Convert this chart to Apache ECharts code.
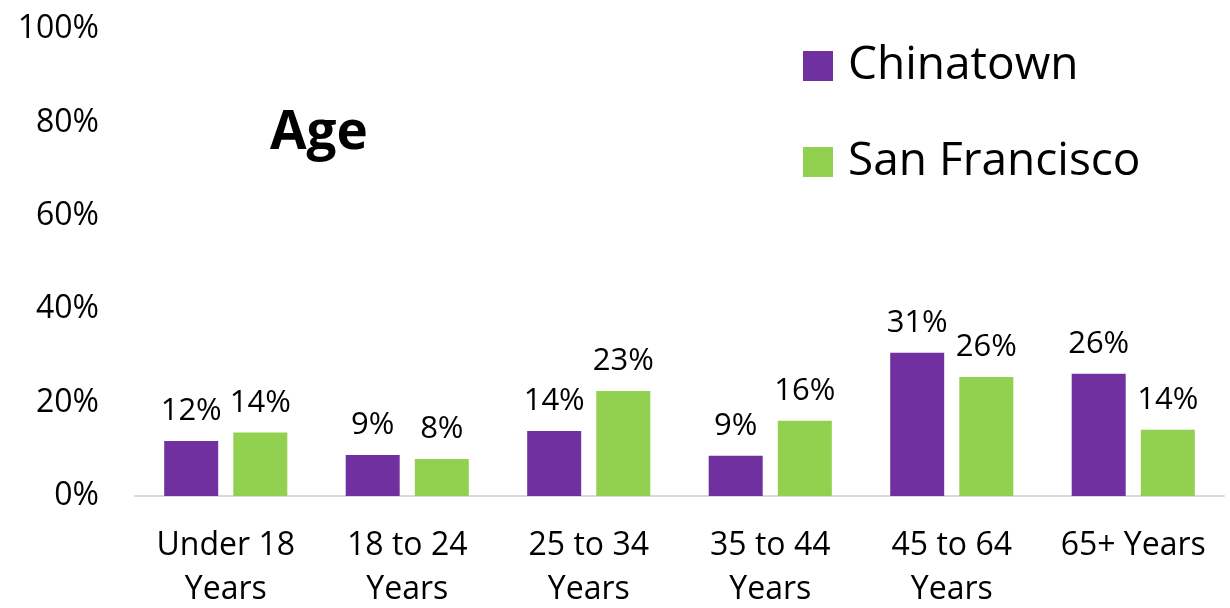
<!DOCTYPE html>
<html>
<head>
<meta charset="utf-8">
<script src="https://cdn.jsdelivr.net/npm/echarts@6/dist/echarts.min.js"></script>
<style>html,body{margin:0;padding:0;background:#fff}#c{width:1230px;height:608px}</style>
</head>
<body>
<div id="c"></div>
<script>
const categories = ['Under 18\nYears', '18 to 24\nYears', '25 to 34\nYears', '35 to 44\nYears', '45 to 64\nYears', '65+ Years'];
const chinatown = [11.8, 8.8, 13.9, 8.6, 30.7, 26.2];
const sanFrancisco = [13.6, 7.9, 22.5, 16.1, 25.5, 14.2];
const seriesNames = ['Chinatown', 'San Francisco'];
const colors = ['#7030A0', '#92D050'];
const FONT = "'Open Sans', sans-serif";

const chart = echarts.init(document.getElementById('c'));
const labelCfg = {
  show: true, position: 'top', distance: 14,
  fontFamily: FONT, fontSize: 31, color: '#000',
  formatter: p => Math.round(p.value) + '%'
};
chart.setOption({
  animation: false,
  color: colors,
  title: {
    text: 'Age', left: 265, top: 102,
    textStyle: { fontFamily: FONT, fontSize: 53, fontWeight: 'bold', color: '#000' }
  },
  legend: {
    orient: 'vertical', left: 803, top: 43, padding: 0,
    itemWidth: 30, itemHeight: 30, itemGap: 50, icon: 'rect',
    textStyle: { fontFamily: FONT, fontSize: 46, color: '#000', padding: [0, 0, 0, 10] },
    data: seriesNames
  },
  grid: { left: 135, right: 6, top: 29, bottom: 112, containLabel: false, outerBoundsMode: 'none' },
  xAxis: {
    type: 'category', data: categories,
    axisLine: { lineStyle: { color: '#D9D9D9', width: 2 } },
    axisTick: { show: false },
    axisLabel: { fontFamily: FONT, fontSize: 32, color: '#000', lineHeight: 44, margin: 28, interval: 0 }
  },
  yAxis: {
    type: 'value', min: 0, max: 100, interval: 20,
    splitLine: { show: false },
    axisLine: { show: false }, axisTick: { show: false },
    axisLabel: { fontFamily: FONT, fontSize: 32, color: '#000', margin: 36, formatter: v => v + '%' }
  },
  series: [
    { name: seriesNames[0], type: 'bar', data: chinatown, barWidth: 54, barGap: '28%', label: labelCfg },
    { name: seriesNames[1], type: 'bar', data: sanFrancisco, barWidth: 54, barGap: '28%', label: labelCfg }
  ]
});
</script>
</body>
</html>
